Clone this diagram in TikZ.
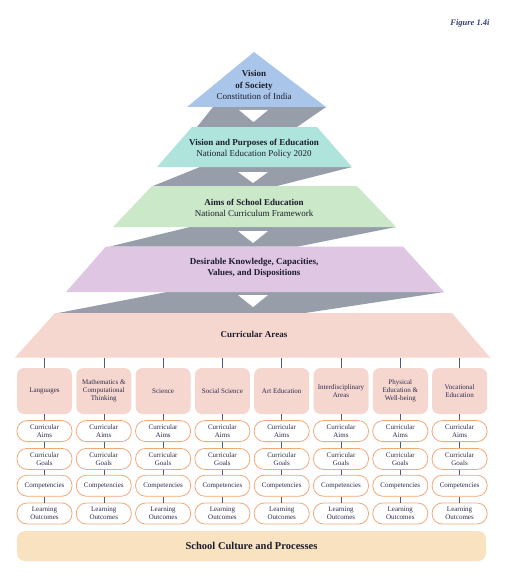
\documentclass[tikz,border=0pt]{standalone}
\usepackage{fontspec}
\setmainfont{Liberation Serif}
\usetikzlibrary{positioning}

\definecolor{lvlblue}{HTML}{A9C6EA}
\definecolor{lvlteal}{HTML}{AEE4DC}
\definecolor{lvlgreen}{HTML}{CBE9C9}
\definecolor{lvlviolet}{HTML}{DFC7E4}
\definecolor{lvlpink}{HTML}{F6D7D0}
\definecolor{bandgray}{HTML}{989DAA}
\definecolor{ovalorange}{HTML}{F2A87B}
\definecolor{linkblue}{HTML}{4A5A8A}
\definecolor{culturetan}{HTML}{F8E2C0}
\definecolor{titlecol}{HTML}{1C1C2E}
\definecolor{labelcol}{HTML}{2A2C4E}
\definecolor{figblue}{HTML}{2F3C74}

\begin{document}
\begin{tikzpicture}[x=1pt, y=-1pt,
    band/.style={fill=bandgray},
    notch/.style={fill=white},
    lvl/.style={align=center, text=titlecol, font=\fontsize{9}{11}\selectfont},
    areabox/.style={fill=lvlpink, rounded corners=7pt, minimum width=55pt, minimum height=46pt,
        inner sep=0pt, align=center, text=labelcol, font=\fontsize{7}{8.2}\selectfont},
    % oval boxes under each area
    stage/.style={draw=ovalorange, line width=0.8pt, fill=white, rounded corners=10pt,
        minimum width=55pt, minimum height=21pt, inner sep=0pt, align=center,
        text=labelcol, font=\fontsize{7}{8}\selectfont},
    link/.style={draw=linkblue, line width=0.6pt}
]
    \useasboundingbox (0,0) rectangle (508,583);

    \node[font=\fontsize{8.5}{10}\selectfont\bfseries\itshape, text=figblue] (figlabel) at (470,23) {Figure 1.4i};

    % grey bands between the levels
    \fill[band] (213,107) -- (326,107) -- (297,127) -- (197,127) -- cycle;
    \fill[band] (200,167) -- (352,167) -- (277,186) -- (153,186) -- cycle;
    \fill[band] (190,227) -- (396,227) -- (298,246.5) -- (110,246.5) -- cycle;
    \fill[band] (167,292) -- (444,292) -- (305,313) -- (58,313) -- cycle;

    \fill[notch] (239,110) -- (268,110) -- (253.5,122) -- cycle;
    \fill[notch] (238,172) -- (268,172) -- (253,183) -- cycle;
    \fill[notch] (238,231) -- (268,231) -- (253,243) -- cycle;
    \fill[notch] (238,295) -- (268,295) -- (253,307) -- cycle;

    \fill[lvlblue] (187,107) -- (254,52) -- (326,107) -- cycle;
    \fill[lvlteal] (192,127) -- (317,127) -- (352,167) -- (157,167) -- cycle;
    \fill[lvlgreen] (152,186) -- (357,186) -- (396,227) -- (113,227) -- cycle;
    \fill[lvlviolet] (106,246.5) -- (403,246.5) -- (444,292) -- (66,292) -- cycle;
    \fill[lvlpink] (55,313) -- (452,313) -- (490,357.5) -- (15,357.5) -- cycle;
    \coordinate (areasbase) at (254,357.5);

    \node[lvl, font=\fontsize{9}{11.5}\selectfont] (society) at (254,85) {\textbf{Vision}\\\textbf{of Society}\\Constitution of India};
    \node[lvl] (purposes) at (254,149) {\textbf{Vision and Purposes of Education}\\National Education Policy 2020};
    \node[lvl] (schoolaims) at (254,207.5) {\textbf{Aims of School Education}\\National Curriculum Framework};
    \node[lvl] (desirable) at (254,268) {\textbf{Desirable Knowledge, Capacities,}\\\textbf{Values, and Dispositions}};
    \node[lvl] (areas) at (254,334) {\textbf{Curricular Areas}};

    \node[areabox] (areaa) at (44.5,391) {Languages};
    \node[areabox] (areab) at (103.8,391) {Mathematics \&\\Computational\\Thinking};
    \node[areabox] (areac) at (163.1,391) {Science};
    \node[areabox] (aread) at (222.4,391) {Social Science};
    \node[areabox] (areae) at (281.7,391) {Art Education};
    \node[areabox] (areaf) at (341,391) {Interdisciplinary\\Areas};
    \node[areabox] (areag) at (400.3,391) {Physical\\Education \&\\Well-being};
    \node[areabox] (areah) at (459.6,391) {Vocational\\Education};

    \node[stage, below=6pt of areaa] (aimsa) {Curricular\\Aims};
    \node[stage, below=6pt of areab] (aimsb) {Curricular\\Aims};
    \node[stage, below=6pt of areac] (aimsc) {Curricular\\Aims};
    \node[stage, below=6pt of aread] (aimsd) {Curricular\\Aims};
    \node[stage, below=6pt of areae] (aimse) {Curricular\\Aims};
    \node[stage, below=6pt of areaf] (aimsf) {Curricular\\Aims};
    \node[stage, below=6pt of areag] (aimsg) {Curricular\\Aims};
    \node[stage, below=6pt of areah] (aimsh) {Curricular\\Aims};

    \node[stage, below=6pt of aimsa] (goalsa) {Curricular\\Goals};
    \node[stage, below=6pt of aimsb] (goalsb) {Curricular\\Goals};
    \node[stage, below=6pt of aimsc] (goalsc) {Curricular\\Goals};
    \node[stage, below=6pt of aimsd] (goalsd) {Curricular\\Goals};
    \node[stage, below=6pt of aimse] (goalse) {Curricular\\Goals};
    \node[stage, below=6pt of aimsf] (goalsf) {Curricular\\Goals};
    \node[stage, below=6pt of aimsg] (goalsg) {Curricular\\Goals};
    \node[stage, below=6pt of aimsh] (goalsh) {Curricular\\Goals};

    \node[stage, below=5pt of goalsa] (compa) {Competencies};
    \node[stage, below=5pt of goalsb] (compb) {Competencies};
    \node[stage, below=5pt of goalsc] (compc) {Competencies};
    \node[stage, below=5pt of goalsd] (compd) {Competencies};
    \node[stage, below=5pt of goalse] (compe) {Competencies};
    \node[stage, below=5pt of goalsf] (compf) {Competencies};
    \node[stage, below=5pt of goalsg] (compg) {Competencies};
    \node[stage, below=5pt of goalsh] (comph) {Competencies};

    \node[stage, below=6pt of compa] (outa) {Learning\\Outcomes};
    \node[stage, below=6pt of compb] (outb) {Learning\\Outcomes};
    \node[stage, below=6pt of compc] (outc) {Learning\\Outcomes};
    \node[stage, below=6pt of compd] (outd) {Learning\\Outcomes};
    \node[stage, below=6pt of compe] (oute) {Learning\\Outcomes};
    \node[stage, below=6pt of compf] (outf) {Learning\\Outcomes};
    \node[stage, below=6pt of compg] (outg) {Learning\\Outcomes};
    \node[stage, below=6pt of comph] (outh) {Learning\\Outcomes};

    \draw[link] (areaa.north |- areasbase) -- (areaa.north) (areaa) -- (aimsa) (aimsa) -- (goalsa) (goalsa) -- (compa) (compa) -- (outa);
    \draw[link] (areab.north |- areasbase) -- (areab.north) (areab) -- (aimsb) (aimsb) -- (goalsb) (goalsb) -- (compb) (compb) -- (outb);
    \draw[link] (areac.north |- areasbase) -- (areac.north) (areac) -- (aimsc) (aimsc) -- (goalsc) (goalsc) -- (compc) (compc) -- (outc);
    \draw[link] (aread.north |- areasbase) -- (aread.north) (aread) -- (aimsd) (aimsd) -- (goalsd) (goalsd) -- (compd) (compd) -- (outd);
    \draw[link] (areae.north |- areasbase) -- (areae.north) (areae) -- (aimse) (aimse) -- (goalse) (goalse) -- (compe) (compe) -- (oute);
    \draw[link] (areaf.north |- areasbase) -- (areaf.north) (areaf) -- (aimsf) (aimsf) -- (goalsf) (goalsf) -- (compf) (compf) -- (outf);
    \draw[link] (areag.north |- areasbase) -- (areag.north) (areag) -- (aimsg) (aimsg) -- (goalsg) (goalsg) -- (compg) (compg) -- (outg);
    \draw[link] (areah.north |- areasbase) -- (areah.north) (areah) -- (aimsh) (aimsh) -- (goalsh) (goalsh) -- (comph) (comph) -- (outh);

    \node[fill=culturetan, rounded corners=8pt, minimum width=469pt, minimum height=30pt,
        font=\fontsize{10.5}{12}\selectfont\bfseries, text=titlecol] (culture) at (251.5,546) {School Culture and Processes};
\end{tikzpicture}
\end{document}
